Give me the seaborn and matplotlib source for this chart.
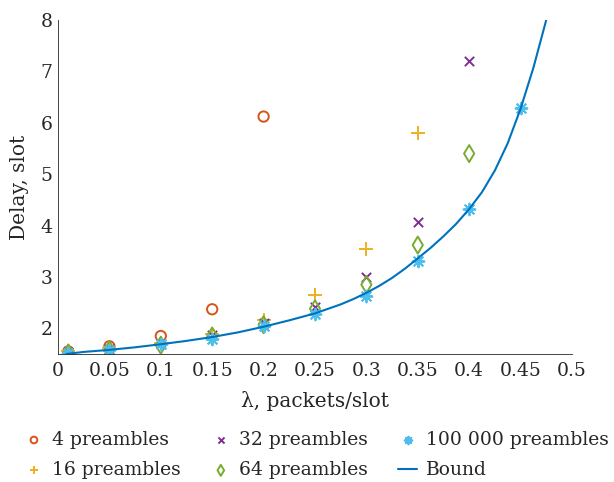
import numpy as np
import pandas as pd
import matplotlib
matplotlib.use('Agg')
import matplotlib.pyplot as plt
import seaborn as sns

# 데이터
lam = [0.01, 0.05, 0.1, 0.15, 0.2, 0.25, 0.3, 0.35, 0.4, 0.45]
d4 = [1.55, 1.65, 1.85, 2.37, 6.12]
d16 = [1.55, 1.62, 1.72, 1.88, 2.17, 2.65, 3.55, 5.8]
d32 = [1.53, 1.60, 1.70, 1.86, 2.10, 2.42, 3.00, 4.07, 7.2]
d64 = [1.52, 1.58, 1.67, 1.85, 2.07, 2.38, 2.85, 3.62, 5.4]
d100k = [1.52, 1.58, 1.70, 1.80, 2.04, 2.28, 2.63, 3.30, 4.32, 6.28]

bound_x = [0.008, 0.025, 0.05, 0.075, 0.1, 0.125, 0.15, 0.175, 0.2, 0.225,
           0.25, 0.275, 0.2875, 0.3, 0.3125, 0.325, 0.3375, 0.35, 0.3625, 0.375,
           0.3875, 0.4, 0.4125, 0.425, 0.4375, 0.45, 0.4625, 0.475]
bound_y = [1.50, 1.54, 1.58, 1.63, 1.69, 1.755, 1.83, 1.92, 2.03, 2.155,
           2.29, 2.465, 2.57, 2.69, 2.825, 2.98, 3.16, 3.36, 3.565, 3.79,
           4.035, 4.32, 4.65, 5.07, 5.60, 6.27, 7.07, 8.0]

labels = ['4 preambles', '16 preambles', '32 preambles', '64 preambles', '100 000 preambles']
series = [d4, d16, d32, d64, d100k]
colors = ['#D95319', '#EDB120', '#7E2F8E', '#77AC30', '#4DBEEE']
markers = ['o', '+', 'x', 'd', (8, 2, 0)]
hollow = [True, False, False, True, False]
sizes = [55, 95, 45, 75, 70]

sns.set_style('white')
plt.rcParams['font.family'] = ['DejaVu Serif']

fig = plt.figure(figsize=(6.14, 4.82), dpi=100)
ax = fig.add_axes([0.0945, 0.2656, 0.837, 0.693])

for lab, vals, c, m, h, s in zip(labels, series, colors, markers, hollow, sizes):
    df = pd.DataFrame({'x': lam[:len(vals)], 'y': vals})
    if h:
        sns.scatterplot(data=df, x='x', y='y', marker=m, s=s, facecolor='none',
                        edgecolor=c, linewidth=1.4, label=lab, ax=ax)
    else:
        sns.scatterplot(data=df, x='x', y='y', marker=m, s=s, color=c,
                        linewidth=1.4, label=lab, ax=ax)

bdf = pd.DataFrame({'x': bound_x, 'y': bound_y})
sns.lineplot(data=bdf, x='x', y='y', color='#0072BD', linewidth=1.5, label='Bound', ax=ax)

ax.set_xlim(0, 0.5)
ax.set_ylim(1.5, 8)
ax.set_xticks(np.arange(0, 0.51, 0.05))
ax.set_xticklabels(['0', '0.05', '0.1', '0.15', '0.2', '0.25', '0.3', '0.35', '0.4', '0.45', '0.5'])
ax.set_yticks([2, 3, 4, 5, 6, 7, 8])
ax.tick_params(direction='in', length=4, width=0.6, labelsize=13.5, colors='#262626')
ax.tick_params(axis='x', pad=6)
ax.tick_params(axis='y', pad=4)
for sp in ['top', 'right']:
    ax.spines[sp].set_visible(False)
for sp in ['left', 'bottom']:
    ax.spines[sp].set_color('#262626')
    ax.spines[sp].set_linewidth(0.6)
ax.set_xlabel('λ, packets/slot', fontsize=14.5, labelpad=8)
ax.set_ylabel('Delay, slot', fontsize=14.5, labelpad=8)

h_, l_ = ax.get_legend_handles_labels()
ax.legend_.remove()
fig.legend(h_, l_, ncol=3, loc='upper left',
           bbox_to_anchor=(0.04, 0.106), frameon=False, fontsize=13.5,
           borderpad=0, borderaxespad=0,
           handlelength=1.0, handletextpad=0.45, columnspacing=1.65, labelspacing=0.66,
           markerscale=0.65)

plt.savefig('out.png', dpi=100)
